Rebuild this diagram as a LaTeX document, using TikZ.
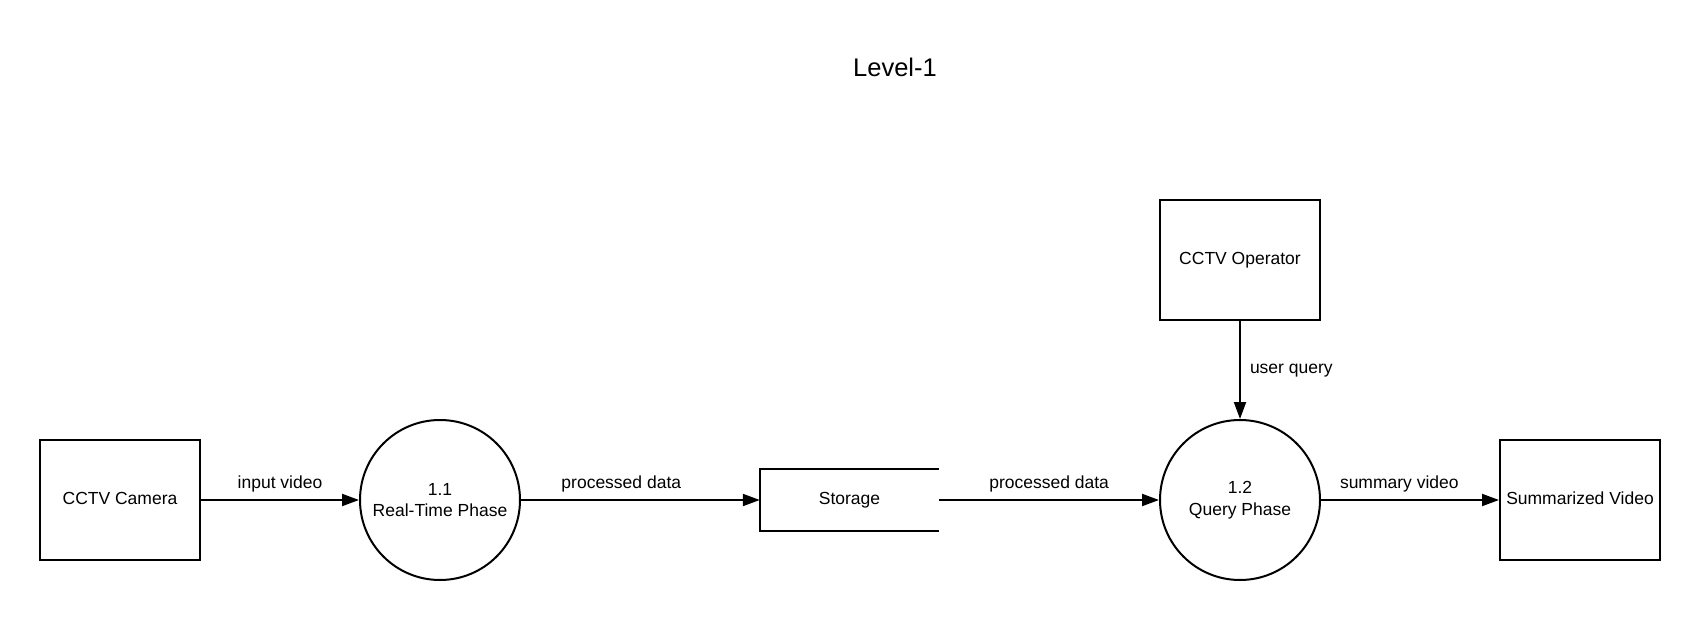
\documentclass[tikz,border=0pt]{standalone}
\usepackage{fontspec}
\setmainfont{Liberation Sans}
\usetikzlibrary{arrows.meta}
\begin{document}
\begin{tikzpicture}[x=1pt, y=-1pt,
  every node/.style={font=\fontsize{17.5}{21.5}\selectfont, inner sep=0pt},
  entity/.style={draw, line width=2pt, minimum width=160pt, minimum height=120pt, text depth=4pt},
  process/.style={draw, circle, line width=2pt, minimum size=160pt, align=center},
  flow/.style={line width=2pt, -{Triangle[length=17pt,width=12pt]}}]
\useasboundingbox (0,0) rectangle (1700,620);
\node (title) at (895,67) {\fontsize{25.5}{30}\selectfont Level-1};
\node[entity] (cam) at (120,500) {CCTV Camera};
\node[process] (rtp) at (440,500) {1.1\\Real-Time Phase};
\node[minimum width=179pt, minimum height=61pt, text depth=4pt] (store) at (849.5,500) {Storage};
\node[process] (qp) at (1240,500) {1.2\\Query Phase};
\node[entity] (oper) at (1240,260) {CCTV Operator};
\node[entity] (summ) at (1580,500) {Summarized Video};
\draw[line width=2pt] (store.north east) -- (store.north west) -- (store.south west) -- (store.south east);
\draw[flow] (cam) -- node[above=7pt] (l1) {input video} (rtp);
\draw[flow] (rtp) -- node[pos=0.42, above=7pt] (l2) {processed data} (store.west);
\draw[flow] (store.east) -- node[above=7pt] (l3) {processed data} (qp);
\draw[flow] (oper) -- node[right=9pt, yshift=-1pt] (l4) {user query} (qp);
\draw[flow] (qp) -- node[pos=0.44, above=7pt] (l5) {summary video} (summ);
\end{tikzpicture}
\end{document}
